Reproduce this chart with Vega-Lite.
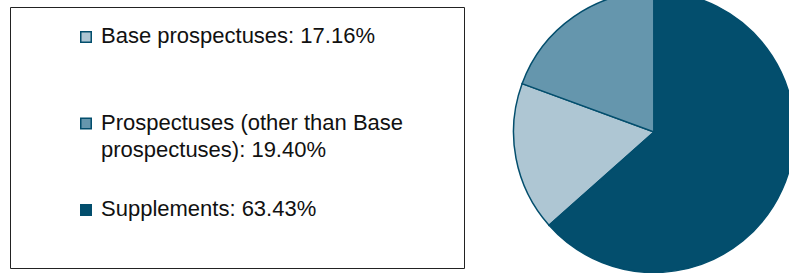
{
  "$schema": "https://vega.github.io/schema/vega-lite/v6.json",
  "width": 789,
  "height": 273,
  "autosize": {"type": "none"},
  "padding": 0,
  "background": "white",
  "config": {"view": {"stroke": null}},
  "data": {
    "values": [
      {"category": "Base prospectuses", "share": 17.16, "label": "Base prospectuses: 17.16%"},
      {"category": "Prospectuses (other than Base prospectuses)", "share": 19.40, "label": "Prospectuses (other than Base\nprospectuses): 19.40%"},
      {"category": "Supplements", "share": 63.43, "label": "Supplements: 63.43%"}
    ]
  },
  "layer": [
    {
      "data": {"values": [{"box": "legend"}]},
      "mark": {"type": "rect", "fill": null, "stroke": "#222222", "strokeWidth": 1},
      "encoding": {
        "x": {"value": 10.5},
        "x2": {"value": 464.5},
        "y": {"value": 7.5},
        "y2": {"value": 268.5}
      }
    },
    {
      "mark": {"type": "arc", "outerRadius": 140.5, "stroke": "#034e6d", "strokeWidth": 1.5},
      "encoding": {
        "theta": {"field": "share", "type": "quantitative", "stack": true, "scale": {"range": [3.9855, 10.2687]}},
        "order": {"field": "share", "type": "quantitative", "sort": "ascending"},
        "color": {
          "field": "category",
          "type": "nominal",
          "scale": {
            "domain": ["Base prospectuses", "Prospectuses (other than Base prospectuses)", "Supplements"],
            "range": ["#aec6d3", "#6596ad", "#034e6d"]
          },
          "legend": null
        },
        "x": {"value": 654},
        "y": {"value": 132}
      }
    },
    {
      "mark": {"type": "point", "shape": "square", "filled": true, "size": 110, "stroke": "#034e6d", "strokeWidth": 1.5, "opacity": 1},
      "encoding": {
        "y": {
          "field": "category",
          "type": "nominal",
          "axis": null,
          "scale": {"type": "point", "padding": 0, "range": [37, 210],
            "domain": ["Base prospectuses", "Prospectuses (other than Base prospectuses)", "Supplements"]}
        },
        "x": {"value": 86},
        "color": {"field": "category", "type": "nominal", "legend": null}
      }
    },
    {
      "mark": {"type": "text", "align": "left", "baseline": "top", "dy": -11, "font": "Liberation Sans", "fontSize": 22, "lineHeight": 27, "lineBreak": "\n", "color": "#111111"},
      "encoding": {
        "y": {"field": "category", "type": "nominal", "axis": null},
        "x": {"value": 101},
        "text": {"field": "label", "type": "nominal"}
      }
    }
  ]
}
